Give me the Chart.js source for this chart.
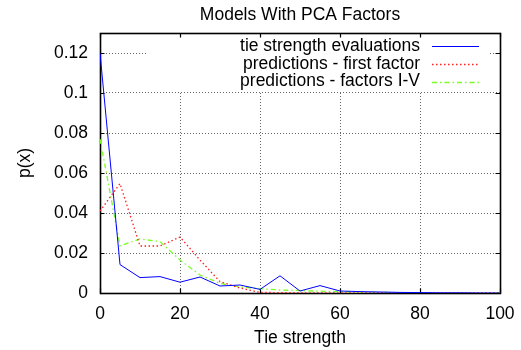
<!DOCTYPE html>
<html>
<head>
<meta charset="utf-8">
<script src="https://cdn.jsdelivr.net/npm/chart.js@4/dist/chart.umd.min.js"></script>
<style>
html,body{margin:0;padding:0;background:#fff;}
#wrap{width:521px;height:350px;position:relative;}
</style>
</head>
<body>
<div id="wrap"><canvas id="c" width="521" height="350"></canvas></div>
<script>
// ---- data ----
const tieStrength = [0,5,10,15,20,25,30,35,40,45,50,55,60,65,70,75,80,85,90,95,100];
const tieEvaluations = [0.120,0.0142,0.0077,0.0082,0.0054,0.0080,0.0035,0.0040,0.0018,0.0086,0.0010,0.0037,0.0010,0.0007,0.0005,0.0003,0.0002,0.0001,0.0001,0.0000,0.0000];
const predFirstFactor = [0.041,0.0547,0.0235,0.0235,0.0280,0.0165,0.0057,0.0025,0.0003,0.0002,0.0001,0.0001,0.0001,0.0000,0.0000,0.0000,0.0000,0.0000,0.0000,0.0000,0.0000];
const predFactorsIV = [0.077,0.0236,0.0270,0.0257,0.0165,0.0090,0.0048,0.0030,0.0022,0.0015,0.0012,0.0009,0.0007,0.0004,0.0003,0.0002,0.0001,0.0001,0.0000,0.0000,0.0000];
const seriesLabels = ['tie strength evaluations','predictions - first factor','predictions - factors I-V'];
const yTickLabels = ['0','0.02','0.04','0.06','0.08','0.1','0.12'];
const xTickLabels = ['0','20','40','60','80','100'];
const chartTitle = 'Models With PCA Factors';
const xTitle = 'Tie strength';
const yTitle = 'p(x)';

const FONT = '"Liberation Sans", Arial, sans-serif';
const FS = 17.5;

function pts(vals){ return tieStrength.map((x,i)=>({x:x,y:vals[i]})); }

const frame = {
  id:'frame',
  beforeDatasetsDraw(chart){
    const {ctx, chartArea:a, scales} = chart;
    ctx.save();
    // legend background (blank the grid)
    ctx.fillStyle = '#fff';
    ctx.fillRect(147, a.top+1, 341, 58);
    // border
    ctx.strokeStyle = '#000';
    ctx.lineWidth = 1.6;
    ctx.strokeRect(a.left+0.5, a.top+0.5, a.right-a.left, a.bottom-a.top);
    // inward ticks
    const L = 4.5;
    ctx.lineWidth = 1.2;
    ctx.beginPath();
    scales.x.ticks.forEach(t=>{
      const px = Math.round(scales.x.getPixelForValue(t.value))+0.5;
      ctx.moveTo(px, a.bottom); ctx.lineTo(px, a.bottom-L);
      ctx.moveTo(px, a.top); ctx.lineTo(px, a.top+L);
    });
    scales.y.ticks.forEach(t=>{
      const py = Math.round(scales.y.getPixelForValue(t.value))+0.5;
      ctx.moveTo(a.left, py); ctx.lineTo(a.left+L, py);
      ctx.moveTo(a.right, py); ctx.lineTo(a.right-L, py);
    });
    ctx.stroke();
    // legend
    ctx.font = FS+'px '+FONT;
    ctx.textAlign = 'right';
    ctx.textBaseline = 'middle';
    ctx.fillStyle = '#000';
    chart.data.datasets.forEach((ds,i)=>{
      const y = 46 + i*17.8;
      ctx.fillText(ds.label, 420, y);
      ctx.save();
      ctx.strokeStyle = ds.borderColor;
      ctx.lineWidth = ds.borderWidth;
      ctx.setLineDash(ds.borderDash || []);
      ctx.beginPath();
      ctx.moveTo(432, Math.round(y)+0.5); ctx.lineTo(479, Math.round(y)+0.5);
      ctx.stroke();
      ctx.restore();
    });
    ctx.restore();
  }
};

new Chart(document.getElementById('c'), {
  type:'line',
  data:{
    datasets:[
      {label:seriesLabels[0], data:pts(tieEvaluations), borderColor:'#0000ff', borderWidth:1, borderDash:[], pointRadius:0, tension:0},
      {label:seriesLabels[1], data:pts(predFirstFactor), borderColor:'#ff2020', borderWidth:1.3, borderDash:[1.5,2.5], pointRadius:0, tension:0},
      {label:seriesLabels[2], data:pts(predFactorsIV), borderColor:'#77ff22', borderWidth:1.3, borderDash:[5,3,1.5,3], pointRadius:0, tension:0}
    ]
  },
  options:{
    responsive:false,
    animation:false,
    layout:{padding:{left:0,right:21,top:0,bottom:0}},
    plugins:{
      legend:{display:false},
      tooltip:{enabled:false},
      title:{display:true, text:chartTitle, fullSize:false, color:'#000',
        font:{family:FONT, size:FS, weight:'normal'}, padding:{top:4.5,bottom:7.5}}
    },
    scales:{
      x:{type:'linear', min:0, max:100,
        ticks:{stepSize:20, color:'#000', padding:11, font:{family:FONT,size:FS},
          callback:(v,i)=>xTickLabels[i]},
        grid:{color:'rgba(0,0,0,0.6)', lineWidth:1, drawTicks:false},
        border:{display:false, dash:[1,2]},
        title:{display:true, text:xTitle, color:'#000', font:{family:FONT,size:FS}, padding:{top:0,bottom:1.5}},
        afterFit(s){ s.height = 57; s.paddingLeft = 0; s.paddingRight = 0; }
      },
      y:{type:'linear', min:0, max:0.13,
        afterBuildTicks(s){ s.ticks = s.ticks.filter(t=>t.value<=0.1201); },
        ticks:{stepSize:0.02, color:'#000', padding:12, font:{family:FONT,size:FS},
          callback:(v,i)=>yTickLabels[i]},
        grid:{color:'rgba(0,0,0,0.6)', lineWidth:1, drawTicks:false},
        border:{display:false, dash:[1,2]},
        title:{display:true, text:yTitle, color:'#000', font:{family:FONT,size:FS}, padding:{top:15,bottom:0}},
        afterFit(s){ s.width = 100; s.paddingTop = 0; s.paddingBottom = 0; }
      }
    }
  },
  plugins:[frame]
});
</script>
</body>
</html>
